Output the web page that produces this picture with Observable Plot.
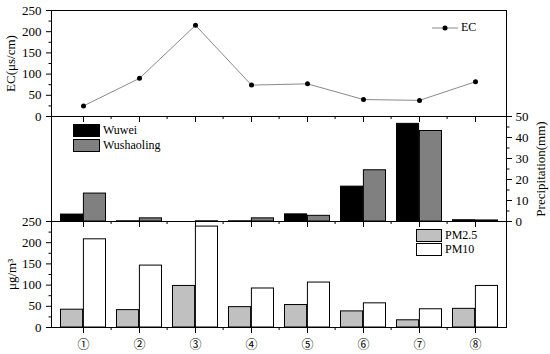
<!DOCTYPE html>
<html>
<head>
<meta charset="utf-8">
<script src="https://cdn.jsdelivr.net/npm/d3@7"></script>
<script src="https://cdn.jsdelivr.net/npm/@observablehq/plot@0.6"></script>
<style>
  html, body { margin: 0; padding: 0; background: white; }
  #chart { position: relative; width: 550px; height: 354px; font-family: "Liberation Serif", serif; color: black; overflow: hidden; }
  #chart svg { position: absolute; left: 0; }
  .leg { position: absolute; font-size: 12px; line-height: 13px; white-space: nowrap; }
  .sw { position: absolute; box-sizing: border-box; border: 1px solid black; }
</style>
</head>
<body>
<div id="chart"></div>
<script>
// ---- data ----
const categories = ["①", "②", "③", "④", "⑤", "⑥", "⑦", "⑧"];
const ecValues = [25, 90, 215, 74, 77, 40, 38, 82];
const precipWuwei = [3.3, 0.1, 0.0, 0.1, 3.4, 16.6, 46.5, 0.6];
const precipWushaoling = [13.3, 1.5, 0.1, 1.5, 2.7, 24.4, 43.1, 0.5];
const pm25 = [42, 41, 98, 48, 53, 38, 17, 44];
const pm10 = [208, 146, 238, 92, 106, 57, 43, 98];
const ecTicks = [0, 50, 100, 150, 200, 250];
const ecMinorTicks = [25, 75, 125, 175, 225];
const precipTicks = [0, 10, 20, 30, 40, 50];
const precipMinorTicks = [5, 15, 25, 35, 45];
const pmTicks = [0, 50, 100, 150, 200, 250];
const pmMinorTicks = [25, 75, 125, 175, 225];

const colors = { Wuwei: "#000000", Wushaoling: "#808080", "PM2.5": "#c0c0c0", PM10: "#ffffff", ecLine: "#8a8a8a" };

const ecData = categories.map((c, i) => ({ cat: c, ec: ecValues[i] }));
const precipData = categories.map((c, i) => ({ cat: c, wuwei: precipWuwei[i], wushaoling: precipWushaoling[i] }));
const pmData = categories.map((c, i) => ({ cat: c, pm25: pm25[i], pm10: pm10[i] }));

const W = 550, ML = 51, MR = 44;
const font = { fontFamily: "'Liberation Serif', 'Noto Sans CJK SC', serif", fontSize: "12px", color: "black", background: "none", overflow: "visible" };
const xScale = { type: "band", domain: categories, padding: 0 };
const noText = () => "";

function xTicks(withLabels) {
  return [
    Plot.axisX({ tickSize: 6, tickPadding: 7, tickFormat: withLabels ? (d => d) : noText, label: null,
                 fontFamily: "'Noto Sans CJK SC', sans-serif", fontSize: 12 }),
    Plot.axisX({ ticks: categories.slice(1), dx: -28.4, tickSize: 3, tickFormat: noText, label: null })
  ];
}

// ---- panel 1: EC ----
const p1 = Plot.plot({
  width: W, height: 126, marginLeft: ML, marginRight: MR, marginTop: 10, marginBottom: 10,
  style: font,
  x: xScale,
  y: { domain: [0, 250] },
  marks: [
    Plot.axisY({ ticks: ecTicks, tickSize: 5, tickPadding: 5, label: "EC(μs/cm)", labelAnchor: "center", labelOffset: 46, labelArrow: "none", fontSize: 13 }),
    Plot.axisY({ ticks: ecMinorTicks, tickSize: 2.5, tickFormat: noText, label: null }),
    ...xTicks(false),
    Plot.line(ecData, { x: "cat", y: "ec", stroke: colors.ecLine, strokeWidth: 1 }),
    Plot.dot(ecData, { x: "cat", y: "ec", r: 2.5, fill: "black", stroke: "none" }),
    Plot.frame({ stroke: "black" })
  ]
});
p1.style.top = "0px";

// ---- panel 2: precipitation ----
const p2 = Plot.plot({
  width: W, height: 125, marginLeft: ML, marginRight: MR, marginTop: 10, marginBottom: 10,
  style: font,
  x: xScale,
  y: { domain: [0, 50] },
  marks: [
    Plot.barY(precipData, { x: "cat", y: "wuwei", fill: colors.Wuwei, stroke: "black", insetLeft: 5.5, insetRight: 28.4 }),
    Plot.barY(precipData, { x: "cat", y: "wushaoling", fill: colors.Wushaoling, stroke: "black", insetLeft: 28.4, insetRight: 5.5 }),
    Plot.axisY({ anchor: "right", ticks: precipTicks, tickSize: 5, tickPadding: 4, label: "Precipitation(mm)", labelAnchor: "center", labelOffset: 38, labelArrow: "none", fontSize: 13 }),
    Plot.axisY({ anchor: "right", ticks: precipMinorTicks, tickSize: 2.5, tickFormat: noText, label: null }),
    ...xTicks(false),
    Plot.frame({ stroke: "black" })
  ]
});
p2.style.top = "106px";

// ---- panel 3: PM ----
const p3 = Plot.plot({
  width: W, height: 143, marginLeft: ML, marginRight: MR, marginTop: 10, marginBottom: 27,
  style: font,
  x: xScale,
  y: { domain: [0, 250] },
  marks: [
    Plot.barY(pmData, { x: "cat", y: "pm25", fill: colors["PM2.5"], stroke: "black", insetLeft: 5.5, insetRight: 28.4 }),
    Plot.barY(pmData, { x: "cat", y: "pm10", fill: colors.PM10, stroke: "black", insetLeft: 28.4, insetRight: 5.5 }),
    Plot.axisY({ ticks: pmTicks, tickSize: 5, tickPadding: 5, label: "μg/m³", labelAnchor: "center", labelOffset: 45, labelArrow: "none", fontSize: 13 }),
    Plot.axisY({ ticks: pmMinorTicks, tickSize: 2.5, tickFormat: noText, label: null }),
    ...xTicks(true),
    Plot.frame({ stroke: "black" })
  ]
});
p3.style.top = "211px";

const chart = document.getElementById("chart");
chart.append(p1, p2, p3);

// ---- legends (HTML overlays) ----
function addHTML(html) { chart.insertAdjacentHTML("beforeend", html); }
addHTML(`<svg style="position:absolute;left:430px;top:22px" width="30" height="12">
  <line x1="2" x2="28" y1="6" y2="6" stroke="${colors.ecLine}" stroke-width="1"></line>
  <circle cx="15" cy="6" r="2.5" fill="black"></circle></svg>`);
addHTML(`<div class="leg" style="left:461px;top:21px">EC</div>`);
addHTML(`<div class="sw" style="left:73px;top:124px;width:27px;height:13px;background:${colors.Wuwei}"></div>`);
addHTML(`<div class="leg" style="left:103px;top:124px">Wuwei</div>`);
addHTML(`<div class="sw" style="left:73px;top:139px;width:27px;height:13px;background:${colors.Wushaoling}"></div>`);
addHTML(`<div class="leg" style="left:103px;top:139px">Wushaoling</div>`);
addHTML(`<div class="sw" style="left:416px;top:229px;width:26px;height:13px;background:${colors["PM2.5"]}"></div>`);
addHTML(`<div class="leg" style="left:445px;top:229px">PM2.5</div>`);
addHTML(`<div class="sw" style="left:416px;top:243px;width:26px;height:13px;background:${colors.PM10}"></div>`);
addHTML(`<div class="leg" style="left:445px;top:243px">PM10</div>`);
</script>
</body>
</html>
